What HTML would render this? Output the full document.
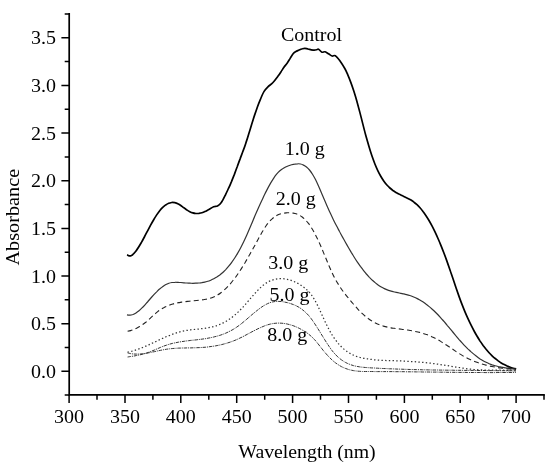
<!DOCTYPE html>
<html><head><meta charset="utf-8"><title>Absorbance</title>
<style>
html,body{margin:0;padding:0;background:#fff;}
svg{display:block;}
text{font-family:"Liberation Serif","Times New Roman",serif;font-size:19.3px;fill:#000;}
</style></head><body>
<svg width="550" height="472" viewBox="0 0 550 472">
<rect width="550" height="472" fill="#fff"/>
<path d="M69.2 13.9V394.9H544.0" fill="none" stroke="#000" stroke-width="1.7" stroke-linecap="square"/>
<path d="M61.4 371.3H69.2M61.4 323.7H69.2M61.4 276.0H69.2M61.4 228.4H69.2M61.4 180.7H69.2M61.4 133.1H69.2M61.4 85.4H69.2M61.4 37.8H69.2M64.7 395.1H69.2M64.7 347.5H69.2M64.7 299.8H69.2M64.7 252.2H69.2M64.7 204.5H69.2M64.7 156.9H69.2M64.7 109.2H69.2M64.7 61.6H69.2M64.7 13.9H69.2M69.1 394.9V403.1M125.0 394.9V403.1M180.8 394.9V403.1M236.7 394.9V403.1M292.6 394.9V403.1M348.5 394.9V403.1M404.4 394.9V403.1M460.2 394.9V403.1M516.1 394.9V403.1M97.0 394.9V399.7M152.9 394.9V399.7M208.8 394.9V399.7M264.7 394.9V399.7M320.5 394.9V399.7M376.4 394.9V399.7M432.3 394.9V399.7M488.2 394.9V399.7M544.0 394.9V399.7" fill="none" stroke="#000" stroke-width="1.5"/>
<path d="M127.0 254.8C127.7 255.0 129.5 256.4 131.0 255.8C132.5 255.2 134.2 253.3 136.0 251.0C137.8 248.7 140.2 244.5 141.6 242.1C143.0 239.7 143.6 238.4 144.6 236.5C145.6 234.7 146.6 232.7 147.6 230.8C148.6 228.9 149.6 227.0 150.6 225.1C151.6 223.3 152.7 221.4 153.7 219.7C154.7 218.0 155.7 216.4 156.7 214.9C157.7 213.4 158.7 212.0 159.7 210.7C160.7 209.5 161.7 208.4 162.7 207.4C163.7 206.5 164.7 205.6 165.7 204.9C166.7 204.3 167.7 203.7 168.7 203.3C169.7 202.9 170.7 202.7 171.7 202.5C172.7 202.4 173.7 202.5 174.8 202.7C175.8 202.9 176.8 203.2 177.8 203.7C178.8 204.2 179.8 204.8 180.8 205.5C181.8 206.2 182.8 207.0 183.8 207.7C184.8 208.5 185.8 209.3 186.8 209.9C187.8 210.6 188.8 211.2 189.8 211.7C190.8 212.2 191.8 212.6 192.8 212.9C193.8 213.2 194.8 213.4 195.8 213.5C196.8 213.5 197.9 213.5 198.9 213.4C199.9 213.2 200.9 213.0 201.9 212.7C202.9 212.4 203.9 212.0 204.9 211.5C205.9 211.1 206.4 210.8 207.9 210.0C209.4 209.3 212.0 207.5 213.6 206.8C215.2 206.1 216.2 206.8 217.5 206.1C218.8 205.4 219.9 204.6 221.3 202.6C222.7 200.6 224.5 196.7 225.7 194.3C226.9 191.9 227.6 190.3 228.6 188.2C229.6 186.1 230.5 183.9 231.5 181.6C232.4 179.3 233.4 176.9 234.4 174.4C235.3 171.9 236.3 169.1 237.3 166.5C238.2 163.9 239.2 161.2 240.2 158.6C241.1 156.0 242.1 153.8 243.0 151.1C244.0 148.5 245.0 145.8 245.9 142.9C246.9 140.0 247.9 136.8 248.8 133.7C249.8 130.6 250.8 127.3 251.7 124.2C252.7 121.1 253.6 118.0 254.6 115.1C255.6 112.2 256.6 109.4 257.5 106.8C258.4 104.2 259.2 102.2 260.3 99.6C261.4 97.0 262.8 93.5 264.1 91.4C265.4 89.3 266.4 88.4 267.9 86.9C269.4 85.4 271.3 84.3 273.0 82.5C274.7 80.7 276.6 78.1 278.1 76.1C279.6 74.1 280.9 71.9 281.9 70.4C282.8 69.0 282.9 68.6 283.8 67.4C284.7 66.2 286.0 64.8 287.1 63.3C288.2 61.8 289.2 59.8 290.3 58.1C291.4 56.4 292.6 54.4 293.5 53.3C294.4 52.2 295.0 52.0 295.9 51.5C296.8 51.0 298.0 50.6 299.1 50.1C300.2 49.6 301.4 49.1 302.4 48.8C303.3 48.5 303.9 48.3 304.8 48.3C305.7 48.3 306.9 48.8 308.0 49.0C309.1 49.2 310.1 49.6 311.2 49.8C312.3 50.0 313.5 50.2 314.4 50.2C315.3 50.2 316.1 49.9 316.8 49.7C317.5 49.5 317.6 48.8 318.5 49.2C319.4 49.6 320.8 51.8 321.9 52.2C323.0 52.6 323.9 51.5 325.1 51.8C326.3 52.1 327.7 53.4 328.9 54.1C330.1 54.8 331.0 55.7 332.1 56.0C333.2 56.3 334.0 55.0 335.3 55.7C336.6 56.5 338.1 58.4 339.7 60.5C341.3 62.6 343.4 66.1 344.8 68.5C346.2 70.9 346.8 72.6 347.8 74.9C348.8 77.2 349.8 79.7 350.8 82.4C351.8 85.1 352.8 88.0 353.8 91.1C354.8 94.2 355.8 97.5 356.8 101.0C357.8 104.6 358.8 108.3 359.8 112.1C360.8 115.9 361.8 120.0 362.8 123.9C363.8 127.8 364.8 131.8 365.8 135.5C366.9 139.2 367.9 142.8 368.9 146.2C369.9 149.6 370.9 152.8 371.9 155.8C372.9 158.7 373.9 161.4 374.9 164.0C375.9 166.5 376.9 168.7 377.9 170.8C378.9 172.9 379.9 174.8 380.9 176.5C381.9 178.3 382.9 179.8 383.9 181.2C384.9 182.6 385.9 183.9 386.9 185.0C387.9 186.1 388.9 187.1 389.9 188.0C390.9 188.9 391.9 189.7 392.9 190.5C393.9 191.2 394.9 191.8 395.9 192.4C396.9 193.0 397.9 193.5 398.9 194.1C399.9 194.6 400.9 195.0 401.9 195.5C402.9 196.0 403.9 196.4 404.9 196.9C405.9 197.4 406.9 197.9 407.9 198.4C408.9 198.9 410.0 199.5 411.0 200.1C412.0 200.7 413.0 201.4 414.0 202.2C415.0 202.9 416.0 203.8 417.0 204.7C418.0 205.6 419.0 206.7 420.0 207.8C421.0 208.9 422.0 210.1 423.0 211.5C424.0 212.8 425.0 214.2 426.0 215.7C427.0 217.2 428.0 218.8 429.0 220.5C430.0 222.2 431.0 224.0 432.0 225.9C433.0 227.8 434.0 229.8 435.0 231.9C436.0 234.0 437.0 236.2 438.0 238.5C439.0 240.7 440.0 243.1 441.0 245.6C442.0 248.0 443.0 250.6 444.0 253.2C445.0 255.8 446.0 258.5 447.0 261.4C448.0 264.2 449.0 267.1 450.0 270.0C451.0 273.0 452.1 276.0 453.1 279.0C454.1 282.0 455.1 285.1 456.1 288.0C457.1 290.9 458.1 293.8 459.1 296.6C460.1 299.4 461.1 302.1 462.1 304.6C463.1 307.2 464.1 309.7 465.1 312.1C466.1 314.5 467.1 316.7 468.1 318.9C469.1 321.1 470.1 323.2 471.1 325.2C472.1 327.2 473.1 329.2 474.1 331.0C475.1 332.9 476.1 334.6 477.1 336.3C478.1 338.0 479.1 339.5 480.1 341.1C481.1 342.6 482.1 344.0 483.1 345.4C484.1 346.7 485.1 348.0 486.1 349.3C487.1 350.5 488.1 351.6 489.1 352.7C490.1 353.8 491.1 354.8 492.1 355.8C493.1 356.8 494.1 357.7 495.2 358.5C496.2 359.3 497.2 360.1 498.2 360.9C499.2 361.6 500.2 362.3 501.2 362.9C502.2 363.5 503.2 364.1 504.2 364.6C505.2 365.1 506.2 365.6 507.2 366.1C508.2 366.5 509.2 366.9 510.2 367.2C511.2 367.6 512.2 367.9 513.2 368.2C514.2 368.5 515.7 368.8 516.2 368.9" fill="none" stroke="#000" stroke-width="1.7" stroke-linejoin="round"/>
<path d="M127.0 314.9C127.5 315.0 129.0 315.3 130.0 315.2C131.0 315.1 132.0 314.8 133.0 314.5C134.0 314.1 135.0 313.5 136.0 312.9C137.0 312.3 138.0 311.5 139.0 310.7C140.0 309.9 141.0 308.9 142.0 307.9C143.0 307.0 144.0 305.9 145.0 304.8C146.0 303.7 146.9 302.6 147.9 301.5C148.9 300.3 149.9 299.2 150.9 298.0C151.9 296.9 152.9 295.8 153.9 294.7C154.9 293.6 155.9 292.5 156.9 291.6C157.9 290.6 158.9 289.6 159.9 288.8C160.9 287.9 161.9 287.1 162.9 286.4C163.9 285.7 164.9 285.0 165.9 284.5C166.9 284.0 167.9 283.6 168.9 283.2C169.9 282.9 170.9 282.7 171.9 282.5C172.9 282.3 173.9 282.3 174.9 282.3C175.9 282.2 176.9 282.3 177.9 282.3C178.9 282.4 179.9 282.5 180.9 282.5C181.9 282.6 182.9 282.7 183.9 282.8C184.9 282.9 185.8 283.0 186.8 283.0C187.8 283.1 188.8 283.2 189.8 283.2C190.8 283.2 191.8 283.3 192.8 283.3C193.8 283.3 194.8 283.3 195.8 283.2C196.8 283.2 197.8 283.1 198.8 283.0C199.8 283.0 200.8 282.8 201.8 282.7C202.8 282.5 203.8 282.3 204.8 282.1C205.8 281.9 206.8 281.6 207.8 281.3C208.8 281.0 209.8 280.6 210.8 280.2C211.8 279.8 212.8 279.3 213.8 278.8C214.8 278.3 215.8 277.7 216.8 277.1C217.8 276.4 218.8 275.7 219.8 275.0C220.8 274.2 221.8 273.4 222.8 272.5C223.8 271.6 224.7 270.6 225.7 269.6C226.7 268.5 227.7 267.4 228.7 266.2C229.7 265.0 230.7 263.7 231.7 262.3C232.7 261.0 233.7 259.5 234.7 258.0C235.7 256.5 236.7 254.8 237.7 253.1C238.7 251.4 239.7 249.6 240.7 247.7C241.7 245.8 242.7 243.9 243.7 241.8C244.7 239.7 245.7 237.5 246.7 235.3C247.7 233.0 248.7 230.7 249.7 228.3C250.7 226.0 251.7 223.5 252.7 221.2C253.7 218.8 254.7 216.4 255.7 214.1C256.7 211.8 257.7 209.5 258.7 207.2C259.7 205.0 260.7 202.8 261.7 200.7C262.7 198.6 263.6 196.5 264.6 194.5C265.6 192.4 266.6 190.5 267.6 188.6C268.6 186.7 269.6 184.9 270.6 183.1C271.6 181.4 272.6 179.8 273.6 178.3C274.6 176.8 275.6 175.4 276.6 174.2C277.6 173.0 278.6 171.9 279.6 171.0C280.6 170.1 281.6 169.3 282.6 168.7C283.6 168.0 284.6 167.5 285.6 167.0C286.6 166.5 287.6 166.1 288.6 165.7C289.6 165.4 290.6 165.1 291.6 164.8C292.6 164.5 293.6 164.2 294.6 164.1C295.6 163.9 296.6 163.8 297.6 163.8C298.6 163.7 299.6 163.8 300.6 164.0C301.6 164.2 302.5 164.6 303.5 165.1C304.5 165.6 305.5 166.2 306.5 167.0C307.5 167.8 308.5 168.8 309.5 170.0C310.5 171.2 311.5 172.6 312.5 174.2C313.5 175.8 314.5 177.6 315.5 179.6C316.5 181.6 317.5 183.8 318.5 186.0C319.5 188.2 320.5 190.6 321.5 193.0C322.5 195.3 323.5 197.8 324.5 200.1C325.5 202.5 326.5 204.8 327.5 207.0C328.5 209.3 329.5 211.5 330.5 213.6C331.5 215.8 332.5 217.9 333.5 219.9C334.5 221.9 335.5 223.9 336.5 225.8C337.5 227.8 338.5 229.6 339.5 231.5C340.5 233.3 341.4 235.1 342.4 236.9C343.4 238.7 344.4 240.4 345.4 242.2C346.4 244.0 347.4 245.7 348.4 247.5C349.4 249.2 350.4 250.9 351.4 252.6C352.4 254.2 353.4 255.9 354.4 257.5C355.4 259.1 356.4 260.6 357.4 262.1C358.4 263.6 359.4 265.0 360.4 266.4C361.4 267.7 362.4 269.1 363.4 270.3C364.4 271.6 365.4 272.8 366.4 274.0C367.4 275.1 368.4 276.2 369.4 277.3C370.4 278.3 371.4 279.3 372.4 280.3C373.4 281.2 374.4 282.1 375.4 282.9C376.4 283.7 377.4 284.5 378.4 285.2C379.4 285.9 380.3 286.5 381.3 287.1C382.3 287.7 383.3 288.2 384.3 288.6C385.3 289.1 386.3 289.5 387.3 289.9C388.3 290.3 389.3 290.6 390.3 290.9C391.3 291.2 392.3 291.5 393.3 291.7C394.3 292.0 395.3 292.2 396.3 292.4C397.3 292.6 398.3 292.8 399.3 293.0C400.3 293.2 401.3 293.4 402.3 293.6C403.3 293.8 404.3 294.1 405.3 294.3C406.3 294.5 407.3 294.8 408.3 295.1C409.3 295.4 410.3 295.7 411.3 296.0C412.3 296.4 413.3 296.8 414.3 297.2C415.3 297.6 416.3 298.1 417.3 298.6C418.3 299.1 419.2 299.7 420.2 300.3C421.2 300.9 422.2 301.5 423.2 302.1C424.2 302.8 425.2 303.5 426.2 304.3C427.2 305.0 428.2 305.8 429.2 306.6C430.2 307.4 431.2 308.3 432.2 309.2C433.2 310.1 434.2 311.0 435.2 312.0C436.2 313.0 437.2 314.0 438.2 315.0C439.2 316.1 440.2 317.2 441.2 318.3C442.2 319.4 443.2 320.6 444.2 321.7C445.2 322.9 446.2 324.1 447.2 325.3C448.2 326.4 449.2 327.7 450.2 328.9C451.2 330.1 452.2 331.3 453.2 332.5C454.2 333.7 455.2 334.9 456.2 336.1C457.2 337.2 458.1 338.4 459.1 339.6C460.1 340.7 461.1 341.8 462.1 342.9C463.1 344.0 464.1 345.1 465.1 346.1C466.1 347.1 467.1 348.1 468.1 349.1C469.1 350.0 470.1 351.0 471.1 351.9C472.1 352.7 473.1 353.6 474.1 354.4C475.1 355.2 476.1 356.0 477.1 356.7C478.1 357.5 479.1 358.2 480.1 358.9C481.1 359.5 482.1 360.1 483.1 360.7C484.1 361.3 485.1 361.8 486.1 362.3C487.1 362.8 488.1 363.3 489.1 363.7C490.1 364.1 491.1 364.5 492.1 364.9C493.1 365.2 494.1 365.5 495.1 365.8C496.1 366.1 497.0 366.3 498.0 366.5C499.0 366.8 500.0 366.9 501.0 367.1C502.0 367.3 503.0 367.5 504.0 367.6C505.0 367.8 506.0 367.9 507.0 368.0C508.0 368.2 509.0 368.3 510.0 368.4C511.0 368.6 512.0 368.7 513.0 368.8C514.0 368.9 515.5 369.1 516.0 369.2" fill="none" stroke="#333" stroke-width="1.2" stroke-linejoin="round"/>
<path d="M127.6 331.3C128.1 331.2 129.6 330.9 130.6 330.6C131.6 330.3 132.6 329.9 133.6 329.5C134.6 329.1 135.6 328.7 136.6 328.2C137.6 327.7 138.6 327.1 139.6 326.5C140.6 325.9 141.7 325.2 142.7 324.5C143.7 323.8 144.7 323.1 145.7 322.3C146.7 321.5 147.7 320.6 148.7 319.7C149.7 318.8 150.7 317.8 151.7 316.9C152.7 316.0 153.7 315.0 154.7 314.1C155.7 313.3 156.7 312.4 157.7 311.6C158.7 310.8 159.7 310.1 160.7 309.5C161.7 308.8 162.7 308.2 163.7 307.7C164.7 307.1 165.7 306.6 166.7 306.2C167.7 305.7 168.7 305.3 169.8 305.0C170.8 304.6 171.8 304.3 172.8 304.0C173.8 303.7 174.8 303.4 175.8 303.2C176.8 303.0 177.8 302.8 178.8 302.6C179.8 302.4 180.8 302.3 181.8 302.1C182.8 302.0 183.8 301.9 184.8 301.7C185.8 301.6 186.8 301.5 187.8 301.4C188.8 301.3 189.8 301.2 190.8 301.1C191.8 301.0 192.8 300.9 193.8 300.8C194.8 300.7 195.8 300.6 196.8 300.5C197.9 300.4 198.9 300.3 199.9 300.1C200.9 300.0 201.9 299.9 202.9 299.8C203.9 299.6 204.9 299.5 205.9 299.3C206.9 299.1 207.9 298.9 208.9 298.6C209.9 298.4 210.9 298.1 211.9 297.7C212.9 297.3 213.9 296.9 214.9 296.5C215.9 296.0 216.9 295.4 217.9 294.8C218.9 294.2 219.9 293.5 220.9 292.7C221.9 292.0 222.9 291.2 223.9 290.3C225.0 289.4 226.0 288.4 227.0 287.4C228.0 286.4 229.0 285.3 230.0 284.2C231.0 283.0 232.0 281.8 233.0 280.5C234.0 279.3 235.0 277.9 236.0 276.6C237.0 275.2 238.0 273.7 239.0 272.2C240.0 270.7 241.0 269.2 242.0 267.6C243.0 266.0 244.0 264.3 245.0 262.7C246.0 261.0 247.0 259.3 248.0 257.5C249.0 255.8 250.0 254.0 251.0 252.2C252.0 250.4 253.1 248.6 254.1 246.8C255.1 244.9 256.1 243.1 257.1 241.2C258.1 239.4 259.1 237.5 260.1 235.7C261.1 233.9 262.1 232.1 263.1 230.5C264.1 228.8 265.1 227.3 266.1 225.8C267.1 224.4 268.1 223.1 269.1 222.0C270.1 220.8 271.1 219.8 272.1 218.9C273.1 217.9 274.1 217.2 275.1 216.5C276.1 215.8 277.1 215.3 278.1 214.8C279.1 214.3 280.1 214.0 281.2 213.7C282.2 213.4 283.2 213.2 284.2 213.1C285.2 212.9 286.2 212.9 287.2 212.8C288.2 212.8 289.2 212.8 290.2 212.8C291.2 212.9 292.2 212.9 293.2 213.1C294.2 213.3 295.2 213.5 296.2 213.8C297.2 214.1 298.2 214.5 299.2 215.1C300.2 215.6 301.2 216.2 302.2 217.0C303.2 217.8 304.2 218.6 305.2 219.7C306.2 220.7 307.2 221.9 308.3 223.2C309.3 224.4 310.3 225.9 311.3 227.5C312.3 229.0 313.3 230.7 314.3 232.6C315.3 234.4 316.3 236.4 317.3 238.4C318.3 240.5 319.3 242.7 320.3 245.0C321.3 247.3 322.3 249.7 323.3 252.1C324.3 254.4 325.3 256.9 326.3 259.3C327.3 261.7 328.3 264.2 329.3 266.5C330.3 268.8 331.3 271.1 332.3 273.2C333.3 275.3 334.3 277.3 335.3 279.2C336.4 281.1 337.4 282.8 338.4 284.4C339.4 286.1 340.4 287.6 341.4 289.0C342.4 290.5 343.4 291.8 344.4 293.1C345.4 294.5 346.4 295.7 347.4 296.9C348.4 298.1 349.4 299.3 350.4 300.5C351.4 301.6 352.4 302.8 353.4 304.0C354.4 305.1 355.4 306.3 356.4 307.4C357.4 308.5 358.4 309.7 359.4 310.7C360.4 311.8 361.4 312.8 362.4 313.7C363.5 314.7 364.5 315.6 365.5 316.4C366.5 317.2 367.5 318.0 368.5 318.8C369.5 319.5 370.5 320.2 371.5 320.8C372.5 321.4 373.5 322.0 374.5 322.5C375.5 323.0 376.5 323.5 377.5 324.0C378.5 324.4 379.5 324.8 380.5 325.2C381.5 325.5 382.5 325.8 383.5 326.1C384.5 326.4 385.5 326.7 386.5 326.9C387.5 327.2 388.5 327.4 389.5 327.6C390.5 327.8 391.6 327.9 392.6 328.1C393.6 328.2 394.6 328.4 395.6 328.5C396.6 328.6 397.6 328.8 398.6 328.9C399.6 329.0 400.6 329.1 401.6 329.2C402.6 329.4 403.6 329.5 404.6 329.6C405.6 329.7 406.6 329.9 407.6 330.0C408.6 330.2 409.6 330.3 410.6 330.5C411.6 330.7 412.6 330.8 413.6 331.1C414.6 331.3 415.6 331.5 416.6 331.7C417.6 331.9 418.6 332.2 419.7 332.4C420.7 332.7 421.7 333.0 422.7 333.3C423.7 333.6 424.7 333.9 425.7 334.3C426.7 334.6 427.7 335.0 428.7 335.4C429.7 335.8 430.7 336.2 431.7 336.7C432.7 337.1 433.7 337.6 434.7 338.1C435.7 338.6 436.7 339.1 437.7 339.7C438.7 340.2 439.7 340.8 440.7 341.4C441.7 342.0 442.7 342.7 443.7 343.3C444.7 344.0 445.7 344.6 446.8 345.3C447.8 346.0 448.8 346.6 449.8 347.3C450.8 348.0 451.8 348.7 452.8 349.3C453.8 350.0 454.8 350.7 455.8 351.4C456.8 352.0 457.8 352.7 458.8 353.3C459.8 353.9 460.8 354.5 461.8 355.1C462.8 355.7 463.8 356.3 464.8 356.8C465.8 357.4 466.8 357.9 467.8 358.4C468.8 358.9 469.8 359.4 470.8 359.8C471.8 360.3 472.8 360.7 473.8 361.1C474.9 361.5 475.9 361.9 476.9 362.3C477.9 362.7 478.9 363.0 479.9 363.3C480.9 363.7 481.9 364.0 482.9 364.3C483.9 364.6 484.9 364.9 485.9 365.1C486.9 365.4 487.9 365.6 488.9 365.9C489.9 366.1 490.9 366.3 491.9 366.5C492.9 366.7 493.9 366.9 494.9 367.1C495.9 367.3 496.9 367.4 497.9 367.6C498.9 367.8 499.9 367.9 500.9 368.0C501.9 368.2 503.0 368.3 504.0 368.4C505.0 368.5 506.0 368.6 507.0 368.7C508.0 368.9 509.0 368.9 510.0 369.0C511.0 369.1 512.0 369.2 513.0 369.3C514.0 369.4 515.5 369.5 516.0 369.5" fill="none" stroke="#222" stroke-width="1.1" stroke-dasharray="5 3.3" stroke-linejoin="round"/>
<path d="M127.6 352.2C128.1 352.1 129.6 351.8 130.6 351.5C131.6 351.3 132.6 351.0 133.6 350.7C134.6 350.4 135.6 350.1 136.6 349.7C137.6 349.4 138.6 349.0 139.6 348.7C140.6 348.3 141.7 347.9 142.7 347.5C143.7 347.1 144.7 346.6 145.7 346.2C146.7 345.8 147.7 345.3 148.7 344.9C149.7 344.4 150.7 343.9 151.7 343.5C152.7 343.0 153.7 342.5 154.7 342.1C155.7 341.6 156.7 341.1 157.7 340.6C158.7 340.2 159.7 339.7 160.7 339.2C161.7 338.8 162.7 338.3 163.7 337.9C164.7 337.4 165.7 337.0 166.7 336.5C167.7 336.1 168.7 335.7 169.8 335.3C170.8 334.9 171.8 334.5 172.8 334.1C173.8 333.8 174.8 333.4 175.8 333.1C176.8 332.7 177.8 332.4 178.8 332.2C179.8 331.9 180.8 331.6 181.8 331.4C182.8 331.1 183.8 330.9 184.8 330.8C185.8 330.6 186.8 330.4 187.8 330.3C188.8 330.1 189.8 330.0 190.8 329.8C191.8 329.7 192.8 329.6 193.8 329.5C194.8 329.4 195.8 329.3 196.8 329.2C197.9 329.1 198.9 329.0 199.9 328.9C200.9 328.8 201.9 328.6 202.9 328.5C203.9 328.4 204.9 328.3 205.9 328.1C206.9 327.9 207.9 327.8 208.9 327.6C209.9 327.4 210.9 327.2 211.9 327.0C212.9 326.7 213.9 326.5 214.9 326.2C215.9 325.9 216.9 325.6 217.9 325.2C218.9 324.8 219.9 324.4 220.9 324.0C221.9 323.5 222.9 323.1 223.9 322.5C225.0 322.0 226.0 321.4 227.0 320.8C228.0 320.2 229.0 319.5 230.0 318.8C231.0 318.1 232.0 317.3 233.0 316.5C234.0 315.7 235.0 314.9 236.0 314.0C237.0 313.1 238.0 312.2 239.0 311.2C240.0 310.2 241.0 309.2 242.0 308.2C243.0 307.1 244.0 306.0 245.0 304.9C246.0 303.7 247.0 302.6 248.0 301.4C249.0 300.2 250.0 299.0 251.0 297.9C252.0 296.7 253.1 295.5 254.1 294.4C255.1 293.3 256.1 292.1 257.1 291.1C258.1 290.0 259.1 289.0 260.1 288.0C261.1 287.1 262.1 286.1 263.1 285.3C264.1 284.5 265.1 283.8 266.1 283.1C267.1 282.5 268.1 281.9 269.1 281.4C270.1 280.9 271.1 280.5 272.1 280.1C273.1 279.8 274.1 279.5 275.1 279.2C276.1 279.0 277.1 278.8 278.1 278.7C279.1 278.6 280.1 278.6 281.2 278.6C282.2 278.6 283.2 278.7 284.2 278.8C285.2 278.9 286.2 279.1 287.2 279.3C288.2 279.5 289.2 279.8 290.2 280.1C291.2 280.4 292.2 280.8 293.2 281.2C294.2 281.6 295.2 282.1 296.2 282.6C297.2 283.1 298.2 283.6 299.2 284.2C300.2 284.8 301.2 285.5 302.2 286.2C303.2 286.9 304.2 287.6 305.2 288.4C306.2 289.3 307.2 290.1 308.3 291.2C309.3 292.2 310.3 293.4 311.3 294.7C312.3 296.1 313.3 297.6 314.3 299.3C315.3 301.0 316.3 302.9 317.3 304.9C318.3 306.9 319.3 309.1 320.3 311.2C321.3 313.4 322.3 315.6 323.3 317.8C324.3 319.9 325.3 322.1 326.3 324.2C327.3 326.2 328.3 328.2 329.3 330.1C330.3 331.9 331.3 333.6 332.3 335.3C333.3 336.9 334.3 338.3 335.3 339.7C336.4 341.1 337.4 342.4 338.4 343.6C339.4 344.7 340.4 345.8 341.4 346.8C342.4 347.8 343.4 348.7 344.4 349.5C345.4 350.4 346.4 351.1 347.4 351.8C348.4 352.5 349.4 353.1 350.4 353.6C351.4 354.2 352.4 354.7 353.4 355.1C354.4 355.5 355.4 355.9 356.4 356.3C357.4 356.6 358.4 356.9 359.4 357.2C360.4 357.5 361.4 357.7 362.4 357.9C363.5 358.2 364.5 358.4 365.5 358.5C366.5 358.7 367.5 358.9 368.5 359.0C369.5 359.2 370.5 359.3 371.5 359.4C372.5 359.6 373.5 359.7 374.5 359.8C375.5 359.9 376.5 360.0 377.5 360.0C378.5 360.1 379.5 360.2 380.5 360.2C381.5 360.3 382.5 360.4 383.5 360.4C384.5 360.4 385.5 360.5 386.5 360.5C387.5 360.6 388.5 360.6 389.5 360.6C390.5 360.7 391.6 360.7 392.6 360.7C393.6 360.7 394.6 360.8 395.6 360.8C396.6 360.8 397.6 360.9 398.6 360.9C399.6 360.9 400.6 361.0 401.6 361.0C402.6 361.1 403.6 361.1 404.6 361.2C405.6 361.2 406.6 361.3 407.6 361.3C408.6 361.4 409.6 361.4 410.6 361.5C411.6 361.5 412.6 361.6 413.6 361.7C414.6 361.7 415.6 361.8 416.6 361.9C417.6 362.0 418.6 362.0 419.7 362.1C420.7 362.2 421.7 362.3 422.7 362.4C423.7 362.5 424.7 362.6 425.7 362.7C426.7 362.8 427.7 362.9 428.7 363.0C429.7 363.1 430.7 363.2 431.7 363.3C432.7 363.5 433.7 363.6 434.7 363.7C435.7 363.9 436.7 364.0 437.7 364.1C438.7 364.3 439.7 364.4 440.7 364.6C441.7 364.8 442.7 364.9 443.7 365.1C444.7 365.2 445.7 365.4 446.8 365.6C447.8 365.7 448.8 365.9 449.8 366.1C450.8 366.2 451.8 366.4 452.8 366.6C453.8 366.7 454.8 366.9 455.8 367.1C456.8 367.2 457.8 367.4 458.8 367.5C459.8 367.7 460.8 367.8 461.8 368.0C462.8 368.1 463.8 368.3 464.8 368.4C465.8 368.6 466.8 368.7 467.8 368.8C468.8 368.9 469.8 369.1 470.8 369.2C471.8 369.3 472.8 369.4 473.8 369.5C474.9 369.5 475.9 369.6 476.9 369.7C477.9 369.8 478.9 369.8 479.9 369.9C480.9 369.9 481.9 370.0 482.9 370.0C483.9 370.0 484.9 370.1 485.9 370.1C486.9 370.1 487.9 370.1 488.9 370.1C489.9 370.1 490.9 370.2 491.9 370.2C492.9 370.2 493.9 370.2 494.9 370.2C495.9 370.2 496.9 370.2 497.9 370.2C498.9 370.2 499.9 370.2 500.9 370.2C501.9 370.2 503.0 370.2 504.0 370.3C505.0 370.3 506.0 370.3 507.0 370.3C508.0 370.3 509.0 370.4 510.0 370.4C511.0 370.4 512.0 370.5 513.0 370.5C514.0 370.6 515.5 370.7 516.0 370.7" fill="none" stroke="#333" stroke-width="1.25" stroke-dasharray="1.4 2.3" stroke-linejoin="round"/>
<path d="M127.6 357.0C128.1 356.9 129.6 356.7 130.6 356.5C131.6 356.4 132.6 356.2 133.6 356.1C134.6 355.9 135.6 355.7 136.6 355.5C137.6 355.3 138.6 355.1 139.6 354.9C140.6 354.7 141.7 354.4 142.7 354.2C143.7 353.9 144.7 353.6 145.7 353.3C146.7 353.0 147.7 352.6 148.7 352.3C149.7 351.9 150.7 351.5 151.7 351.1C152.7 350.7 153.7 350.3 154.7 349.9C155.7 349.5 156.7 349.0 157.7 348.6C158.7 348.2 159.7 347.7 160.7 347.3C161.7 346.9 162.7 346.5 163.7 346.1C164.7 345.8 165.7 345.4 166.7 345.1C167.7 344.7 168.7 344.4 169.8 344.1C170.8 343.9 171.8 343.6 172.8 343.3C173.8 343.1 174.8 342.9 175.8 342.7C176.8 342.5 177.8 342.3 178.8 342.1C179.8 341.9 180.8 341.8 181.8 341.6C182.8 341.4 183.8 341.3 184.8 341.2C185.8 341.0 186.8 340.9 187.8 340.8C188.8 340.7 189.8 340.6 190.8 340.4C191.8 340.3 192.8 340.2 193.8 340.1C194.8 340.0 195.8 339.9 196.8 339.8C197.9 339.6 198.9 339.5 199.9 339.4C200.9 339.3 201.9 339.1 202.9 339.0C203.9 338.9 204.9 338.7 205.9 338.6C206.9 338.4 207.9 338.2 208.9 338.0C209.9 337.9 210.9 337.7 211.9 337.4C212.9 337.2 213.9 337.0 214.9 336.7C215.9 336.5 216.9 336.2 217.9 335.9C218.9 335.6 219.9 335.3 220.9 335.0C221.9 334.6 222.9 334.3 223.9 333.9C225.0 333.5 226.0 333.0 227.0 332.6C228.0 332.1 229.0 331.6 230.0 331.1C231.0 330.6 232.0 330.1 233.0 329.5C234.0 328.9 235.0 328.3 236.0 327.6C237.0 327.0 238.0 326.3 239.0 325.5C240.0 324.8 241.0 324.0 242.0 323.2C243.0 322.4 244.0 321.5 245.0 320.7C246.0 319.9 247.0 319.0 248.0 318.1C249.0 317.3 250.0 316.4 251.0 315.5C252.0 314.6 253.1 313.8 254.1 312.9C255.1 312.1 256.1 311.3 257.1 310.5C258.1 309.7 259.1 308.9 260.1 308.2C261.1 307.4 262.1 306.7 263.1 306.1C264.1 305.5 265.1 304.9 266.1 304.4C267.1 303.8 268.1 303.4 269.1 303.0C270.1 302.6 271.1 302.3 272.1 302.0C273.1 301.8 274.1 301.6 275.1 301.5C276.1 301.4 277.1 301.4 278.1 301.4C279.1 301.4 280.1 301.4 281.2 301.5C282.2 301.6 283.2 301.8 284.2 302.0C285.2 302.1 286.2 302.4 287.2 302.6C288.2 302.9 289.2 303.1 290.2 303.5C291.2 303.8 292.2 304.1 293.2 304.5C294.2 304.9 295.2 305.3 296.2 305.8C297.2 306.3 298.2 306.8 299.2 307.4C300.2 308.1 301.2 308.7 302.2 309.5C303.2 310.3 304.2 311.1 305.2 312.0C306.2 313.0 307.2 314.0 308.3 315.1C309.3 316.3 310.3 317.5 311.3 318.8C312.3 320.2 313.3 321.6 314.3 323.1C315.3 324.6 316.3 326.1 317.3 327.7C318.3 329.3 319.3 330.9 320.3 332.5C321.3 334.2 322.3 335.8 323.3 337.4C324.3 339.0 325.3 340.7 326.3 342.2C327.3 343.8 328.3 345.3 329.3 346.7C330.3 348.2 331.3 349.6 332.3 350.9C333.3 352.1 334.3 353.3 335.3 354.4C336.4 355.5 337.4 356.5 338.4 357.4C339.4 358.3 340.4 359.1 341.4 359.8C342.4 360.5 343.4 361.2 344.4 361.8C345.4 362.4 346.4 362.9 347.4 363.4C348.4 363.8 349.4 364.2 350.4 364.6C351.4 365.0 352.4 365.3 353.4 365.6C354.4 365.8 355.4 366.1 356.4 366.3C357.4 366.5 358.4 366.7 359.4 366.8C360.4 367.0 361.4 367.1 362.4 367.2C363.5 367.3 364.5 367.4 365.5 367.5C366.5 367.6 367.5 367.6 368.5 367.7C369.5 367.8 370.5 367.8 371.5 367.9C372.5 367.9 373.5 368.0 374.5 368.0C375.5 368.1 376.5 368.2 377.5 368.2C378.5 368.3 379.5 368.3 380.5 368.4C381.5 368.4 382.5 368.5 383.5 368.5C384.5 368.5 385.5 368.6 386.5 368.6C387.5 368.7 388.5 368.7 389.5 368.8C390.5 368.8 391.6 368.8 392.6 368.9C393.6 368.9 394.6 369.0 395.6 369.0C396.6 369.0 397.6 369.1 398.6 369.1C399.6 369.1 400.6 369.2 401.6 369.2C402.6 369.2 403.6 369.3 404.6 369.3C405.6 369.3 406.6 369.4 407.6 369.4C408.6 369.4 409.6 369.5 410.6 369.5C411.6 369.5 412.6 369.5 413.6 369.6C414.6 369.6 415.6 369.6 416.6 369.6C417.6 369.7 418.6 369.7 419.7 369.7C420.7 369.7 421.7 369.8 422.7 369.8C423.7 369.8 424.7 369.8 425.7 369.8C426.7 369.9 427.7 369.9 428.7 369.9C429.7 369.9 430.7 369.9 431.7 370.0C432.7 370.0 433.7 370.0 434.7 370.0C435.7 370.0 436.7 370.0 437.7 370.0C438.7 370.1 439.7 370.1 440.7 370.1C441.7 370.1 442.7 370.1 443.7 370.1C444.7 370.1 445.7 370.2 446.8 370.2C447.8 370.2 448.8 370.2 449.8 370.2C450.8 370.2 451.8 370.2 452.8 370.2C453.8 370.3 454.8 370.3 455.8 370.3C456.8 370.3 457.8 370.3 458.8 370.3C459.8 370.3 460.8 370.3 461.8 370.3C462.8 370.3 463.8 370.4 464.8 370.4C465.8 370.4 466.8 370.4 467.8 370.4C468.8 370.4 469.8 370.4 470.8 370.4C471.8 370.4 472.8 370.4 473.8 370.4C474.9 370.5 475.9 370.5 476.9 370.5C477.9 370.5 478.9 370.5 479.9 370.5C480.9 370.5 481.9 370.5 482.9 370.5C483.9 370.5 484.9 370.5 485.9 370.5C486.9 370.6 487.9 370.6 488.9 370.6C489.9 370.6 490.9 370.6 491.9 370.6C492.9 370.6 493.9 370.6 494.9 370.6C495.9 370.6 496.9 370.7 497.9 370.7C498.9 370.7 499.9 370.7 500.9 370.7C501.9 370.7 503.0 370.7 504.0 370.7C505.0 370.7 506.0 370.8 507.0 370.8C508.0 370.8 509.0 370.8 510.0 370.8C511.0 370.8 512.0 370.8 513.0 370.9C514.0 370.9 515.5 370.9 516.0 370.9" fill="none" stroke="#333" stroke-width="1" stroke-dasharray="3.5 0.9 1 0.9" stroke-linejoin="round"/>
<path d="M127.6 352.9C128.1 353.0 129.6 353.4 130.6 353.6C131.6 353.8 132.6 353.9 133.6 354.0C134.6 354.1 135.6 354.1 136.6 354.1C137.6 354.1 138.6 354.1 139.6 354.0C140.6 354.0 141.7 353.9 142.7 353.8C143.7 353.7 144.7 353.5 145.7 353.4C146.7 353.2 147.7 353.0 148.7 352.8C149.7 352.7 150.7 352.5 151.7 352.2C152.7 352.0 153.7 351.8 154.7 351.6C155.7 351.4 156.7 351.1 157.7 350.9C158.7 350.7 159.7 350.5 160.7 350.3C161.7 350.1 162.7 349.9 163.7 349.7C164.7 349.5 165.7 349.4 166.7 349.2C167.7 349.1 168.7 348.9 169.8 348.8C170.8 348.7 171.8 348.6 172.8 348.5C173.8 348.4 174.8 348.4 175.8 348.3C176.8 348.2 177.8 348.2 178.8 348.1C179.8 348.1 180.8 348.1 181.8 348.0C182.8 348.0 183.8 348.0 184.8 348.0C185.8 347.9 186.8 347.9 187.8 347.9C188.8 347.9 189.8 347.9 190.8 347.9C191.8 347.8 192.8 347.8 193.8 347.8C194.8 347.8 195.8 347.8 196.8 347.7C197.9 347.7 198.9 347.6 199.9 347.6C200.9 347.5 201.9 347.5 202.9 347.4C203.9 347.3 204.9 347.3 205.9 347.2C206.9 347.1 207.9 347.0 208.9 346.8C209.9 346.7 210.9 346.6 211.9 346.4C212.9 346.3 213.9 346.1 214.9 346.0C215.9 345.8 216.9 345.6 217.9 345.4C218.9 345.2 219.9 345.0 220.9 344.8C221.9 344.5 222.9 344.3 223.9 344.0C225.0 343.7 226.0 343.5 227.0 343.1C228.0 342.8 229.0 342.5 230.0 342.2C231.0 341.8 232.0 341.5 233.0 341.1C234.0 340.7 235.0 340.3 236.0 339.9C237.0 339.5 238.0 339.0 239.0 338.5C240.0 338.1 241.0 337.6 242.0 337.1C243.0 336.6 244.0 336.1 245.0 335.5C246.0 335.0 247.0 334.5 248.0 333.9C249.0 333.4 250.0 332.9 251.0 332.3C252.0 331.8 253.1 331.2 254.1 330.7C255.1 330.2 256.1 329.7 257.1 329.2C258.1 328.7 259.1 328.2 260.1 327.8C261.1 327.3 262.1 326.9 263.1 326.5C264.1 326.0 265.1 325.7 266.1 325.3C267.1 325.0 268.1 324.7 269.1 324.4C270.1 324.1 271.1 323.9 272.1 323.7C273.1 323.5 274.1 323.4 275.1 323.3C276.1 323.2 277.1 323.1 278.1 323.1C279.1 323.1 280.1 323.1 281.2 323.2C282.2 323.2 283.2 323.3 284.2 323.5C285.2 323.6 286.2 323.8 287.2 324.0C288.2 324.2 289.2 324.5 290.2 324.8C291.2 325.0 292.2 325.4 293.2 325.7C294.2 326.1 295.2 326.5 296.2 326.9C297.2 327.4 298.2 327.8 299.2 328.3C300.2 328.8 301.2 329.4 302.2 330.0C303.2 330.5 304.2 331.1 305.2 331.8C306.2 332.4 307.2 333.1 308.3 333.9C309.3 334.7 310.3 335.5 311.3 336.4C312.3 337.3 313.3 338.3 314.3 339.4C315.3 340.4 316.3 341.6 317.3 342.9C318.3 344.1 319.3 345.4 320.3 346.7C321.3 347.9 322.3 349.2 323.3 350.5C324.3 351.7 325.3 352.9 326.3 354.0C327.3 355.2 328.3 356.2 329.3 357.3C330.3 358.3 331.3 359.3 332.3 360.2C333.3 361.1 334.3 361.9 335.3 362.7C336.4 363.5 337.4 364.2 338.4 364.8C339.4 365.5 340.4 366.1 341.4 366.6C342.4 367.1 343.4 367.6 344.4 368.0C345.4 368.4 346.4 368.8 347.4 369.1C348.4 369.5 349.4 369.7 350.4 370.0C351.4 370.2 352.4 370.4 353.4 370.6C354.4 370.8 355.4 370.9 356.4 371.0C357.4 371.2 358.4 371.2 359.4 371.3C360.4 371.4 361.4 371.4 362.4 371.5C363.5 371.5 364.5 371.5 365.5 371.5C366.5 371.5 367.5 371.5 368.5 371.5C369.5 371.5 370.5 371.5 371.5 371.5C372.5 371.5 373.5 371.5 374.5 371.6C375.5 371.6 376.5 371.6 377.5 371.6C378.5 371.6 379.5 371.6 380.5 371.6C381.5 371.6 382.5 371.6 383.5 371.6C384.5 371.6 385.5 371.6 386.5 371.6C387.5 371.6 388.5 371.6 389.5 371.6C390.5 371.6 391.6 371.6 392.6 371.6C393.6 371.6 394.6 371.7 395.6 371.7C396.6 371.7 397.6 371.7 398.6 371.7C399.6 371.7 400.6 371.7 401.6 371.7C402.6 371.7 403.6 371.7 404.6 371.7C405.6 371.8 406.6 371.8 407.6 371.8C408.6 371.8 409.6 371.8 410.6 371.8C411.6 371.8 412.6 371.8 413.6 371.8C414.6 371.9 415.6 371.9 416.6 371.9C417.6 371.9 418.6 371.9 419.7 371.9C420.7 371.9 421.7 371.9 422.7 372.0C423.7 372.0 424.7 372.0 425.7 372.0C426.7 372.0 427.7 372.0 428.7 372.0C429.7 372.0 430.7 372.1 431.7 372.1C432.7 372.1 433.7 372.1 434.7 372.1C435.7 372.1 436.7 372.1 437.7 372.1C438.7 372.2 439.7 372.2 440.7 372.2C441.7 372.2 442.7 372.2 443.7 372.2C444.7 372.2 445.7 372.2 446.8 372.3C447.8 372.3 448.8 372.3 449.8 372.3C450.8 372.3 451.8 372.3 452.8 372.3C453.8 372.3 454.8 372.3 455.8 372.4C456.8 372.4 457.8 372.4 458.8 372.4C459.8 372.4 460.8 372.4 461.8 372.4C462.8 372.4 463.8 372.4 464.8 372.4C465.8 372.5 466.8 372.5 467.8 372.5C468.8 372.5 469.8 372.5 470.8 372.5C471.8 372.5 472.8 372.5 473.8 372.5C474.9 372.5 475.9 372.5 476.9 372.5C477.9 372.5 478.9 372.5 479.9 372.5C480.9 372.5 481.9 372.5 482.9 372.5C483.9 372.6 484.9 372.6 485.9 372.6C486.9 372.6 487.9 372.6 488.9 372.6C489.9 372.6 490.9 372.6 491.9 372.6C492.9 372.6 493.9 372.6 494.9 372.6C495.9 372.6 496.9 372.5 497.9 372.5C498.9 372.5 499.9 372.5 500.9 372.5C501.9 372.5 503.0 372.5 504.0 372.5C505.0 372.5 506.0 372.5 507.0 372.5C508.0 372.5 509.0 372.5 510.0 372.5C511.0 372.5 512.0 372.4 513.0 372.4C514.0 372.4 515.5 372.4 516.0 372.4" fill="none" stroke="#333" stroke-width="1" stroke-dasharray="3.5 0.9 1 0.9" stroke-linejoin="round"/>
<g>
<text transform="translate(56 377.8) scale(1.036 1)" text-anchor="end">0.0</text>
<text transform="translate(56 330.2) scale(1.036 1)" text-anchor="end">0.5</text>
<text transform="translate(56 282.5) scale(1.036 1)" text-anchor="end">1.0</text>
<text transform="translate(56 234.9) scale(1.036 1)" text-anchor="end">1.5</text>
<text transform="translate(56 187.2) scale(1.036 1)" text-anchor="end">2.0</text>
<text transform="translate(56 139.6) scale(1.036 1)" text-anchor="end">2.5</text>
<text transform="translate(56 91.9) scale(1.036 1)" text-anchor="end">3.0</text>
<text transform="translate(56 44.2) scale(1.036 1)" text-anchor="end">3.5</text>
<text transform="translate(69.1 423.2) scale(1.036 1)" text-anchor="middle">300</text>
<text transform="translate(125.0 423.2) scale(1.036 1)" text-anchor="middle">350</text>
<text transform="translate(180.8 423.2) scale(1.036 1)" text-anchor="middle">400</text>
<text transform="translate(236.7 423.2) scale(1.036 1)" text-anchor="middle">450</text>
<text transform="translate(292.6 423.2) scale(1.036 1)" text-anchor="middle">500</text>
<text transform="translate(348.5 423.2) scale(1.036 1)" text-anchor="middle">550</text>
<text transform="translate(404.4 423.2) scale(1.036 1)" text-anchor="middle">600</text>
<text transform="translate(460.2 423.2) scale(1.036 1)" text-anchor="middle">650</text>
<text transform="translate(516.1 423.2) scale(1.036 1)" text-anchor="middle">700</text>
<text transform="translate(311.5 40.5) scale(1.036 1)" text-anchor="middle">Control</text>
<text transform="translate(284.8 154.8) scale(1.036 1)" text-anchor="start">1.0 g</text>
<text transform="translate(275.8 205) scale(1.036 1)" text-anchor="start">2.0 g</text>
<text transform="translate(268.2 269) scale(1.036 1)" text-anchor="start">3.0 g</text>
<text transform="translate(269.6 301.2) scale(1.036 1)" text-anchor="start">5.0 g</text>
<text transform="translate(267.2 340.7) scale(1.036 1)" text-anchor="start">8.0 g</text>
<text x="307" y="458" text-anchor="middle" style="font-size:19.8px">Wavelength (nm)</text>
<text transform="translate(18.5 217.2) rotate(-90) scale(1.05 1)" text-anchor="middle">Absorbance</text>
</g>
</svg>
</body></html>
